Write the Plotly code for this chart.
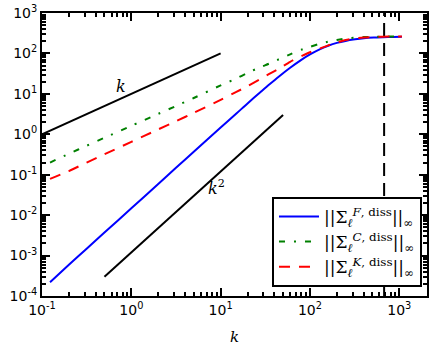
import numpy as np
import plotly.graph_objects as go

# wavenumbers (shared grid for the three curves)
k = [0.123, 0.2, 0.316, 0.5, 1, 2, 3.16, 5, 10, 15, 20, 28, 35, 45, 60, 80,
     100, 130, 160, 200, 250, 320, 400, 520, 660, 850, 1070]

# ||Sigma_l^{X,diss}||_inf, values
sig_F = [2.2e-4, 5.9e-4, 1.48e-3, 3.7e-3, 0.0148, 0.059, 0.148, 0.37, 1.47, 3.26, 5.8, 11.1, 17.0, 27, 44.3, 69.5,
         94.6, 128, 155, 182, 204, 223, 237, 247, 252, 256, 259]
sig_C = [0.2, 0.33, 0.52, 0.82, 1.62, 3.2, 5.0, 7.9, 16.2, 24, 33, 46, 56, 72, 95, 123,
         145, 174, 195, 214, 234, 246, 254, 258, 260, 262, 263]
sig_K = [0.079, 0.123, 0.2, 0.32, 0.65, 1.32, 2.1, 3.4, 7.1, 11.2, 15.5, 23.4, 31, 42, 62, 85,
         107, 132, 158, 186, 214, 235, 248, 255, 260, 262, 263]

# reference slopes
k_lin = [0.1, 10]
y_lin = [1, 100]
k_sq = [0.5, 50]
y_sq = [3e-4, 3.0]

k_cut = 676  # vertical dashed line
y_span = [1e-4, 1e3]

fig = go.Figure()

fig.add_trace(go.Scatter(x=k_lin, y=y_lin, mode="lines", line=dict(color="black", width=2), showlegend=False))
fig.add_trace(go.Scatter(x=k_sq, y=y_sq, mode="lines", line=dict(color="black", width=2), showlegend=False))
fig.add_trace(go.Scatter(x=[k_cut, k_cut], y=y_span, mode="lines",
                         line=dict(color="black", width=2, dash="13px,7px"), showlegend=False))

fig.add_trace(go.Scatter(x=k, y=sig_F, mode="lines",
                         line=dict(color="blue", width=2, shape="spline", smoothing=0.8),
                         name="||Σ<sub><i>ℓ</i></sub><sup><i>F</i>, diss</sup>||<sub>∞</sub>"))
fig.add_trace(go.Scatter(x=k, y=sig_C, mode="lines",
                         line=dict(color="green", width=2, shape="spline", smoothing=0.8, dash="6px,9px,2px,9px"),
                         name="||Σ<sub><i>ℓ</i></sub><sup><i>C</i>, diss</sup>||<sub>∞</sub>"))
fig.add_trace(go.Scatter(x=k, y=sig_K, mode="lines",
                         line=dict(color="red", width=2, shape="spline", smoothing=0.8, dash="11px,9px"),
                         name="||Σ<sub><i>ℓ</i></sub><sup><i>K</i>, diss</sup>||<sub>∞</sub>"))

fig.add_annotation(x=np.log10(0.76), y=np.log10(15.5), text="<i>k</i>", showarrow=False,
                   font=dict(family="DejaVu Serif", size=16, color="black"))
fig.add_annotation(x=np.log10(9.0), y=np.log10(0.047), text="<i>k</i><sup>2</sup>", showarrow=False,
                   font=dict(family="DejaVu Serif", size=16, color="black"))

minor_x = [m * 10.0 ** e for e in range(-1, 4) for m in range(2, 10)]
minor_y = [m * 10.0 ** e for e in range(-4, 3) for m in range(2, 10)]

axis_common = dict(type="log", showline=True, linecolor="black", linewidth=2, mirror="allticks",
                   ticks="inside", ticklen=8, tickwidth=1.5, tickcolor="black", showgrid=False,
                   zeroline=False, automargin=False,
                   tickfont=dict(family="DejaVu Sans", size=14, color="black"))

fig.update_xaxes(range=[-1, 3.31], tickmode="array",
                 tickvals=[0.1, 1, 10, 100, 1000],
                 ticktext=["10<sup>-1</sup>", "10<sup>0</sup>", "10<sup>1</sup>", "10<sup>2</sup>", "10<sup>3</sup>"],
                 minor=dict(tickmode="array", tickvals=minor_x, ticks="inside", ticklen=4, tickcolor="black"),
                 title=dict(text="<i>k</i>", font=dict(family="DejaVu Serif", size=15, color="black"), standoff=19),
                 **axis_common)
fig.update_yaxes(range=[-4, 3], tickmode="array",
                 tickvals=[1e-4, 1e-3, 1e-2, 1e-1, 1, 10, 100, 1000],
                 ticktext=["10<sup>-4</sup>", "10<sup>-3</sup>", "10<sup>-2</sup>", "10<sup>-1</sup>",
                           "10<sup>0</sup>", "10<sup>1</sup>", "10<sup>2</sup>", "10<sup>3</sup>"],
                 minor=dict(tickmode="array", tickvals=minor_y, ticks="inside", ticklen=4, tickcolor="black"),
                 **axis_common)

fig.update_layout(
    width=430, height=346,
    margin=dict(l=42, r=3, t=13, b=50),
    plot_bgcolor="white", paper_bgcolor="white",
    legend=dict(x=0.987, y=0.032, xanchor="right", yanchor="bottom",
                bordercolor="black", borderwidth=2, bgcolor="white",
                font=dict(family="DejaVu Serif", size=17, color="black"),
                tracegroupgap=0, itemwidth=40),
)

# page body margin would shift the figure by 8px
fig.write_html("out.html", config={"displayModeBar": False},
               post_script="document.body.style.margin='0';")
